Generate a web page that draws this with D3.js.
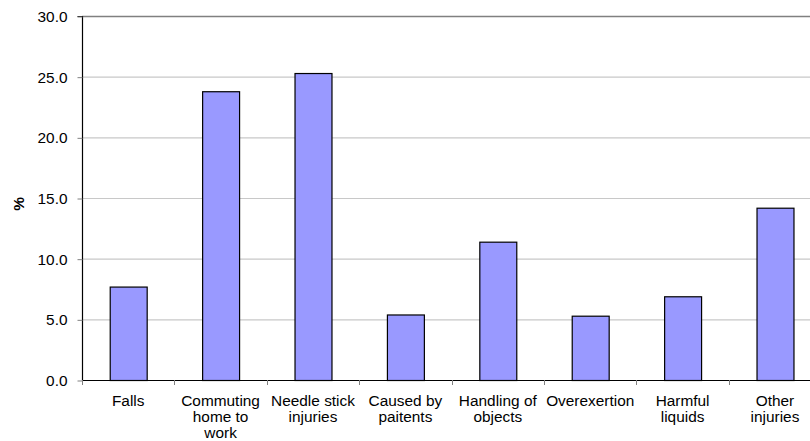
<!DOCTYPE html>
<html><head><meta charset="utf-8">
<script src="https://cdn.jsdelivr.net/npm/d3@7"></script>
<style>body{margin:0;background:#fff}svg{display:block;font-family:"Liberation Sans",Arial,sans-serif}</style>
</head><body>
<script>
const categories = [["Falls"],["Commuting","home to","work"],["Needle stick","injuries"],["Caused by","paitents"],["Handling of","objects"],["Overexertion"],["Harmful","liquids"],["Other","injuries"]];
const values = [7.7, 23.8, 25.3, 5.4, 11.4, 5.3, 6.9, 14.2];
const yTicks = [0, 5, 10, 15, 20, 25, 30];
const yLabel = "%";

const W = 810, H = 441;
const mLeft = 82, mTop = 16, mBottom = 380, step = 92.4;
const FS = 15.4;
const svg = d3.select("body").append("svg").attr("width", W).attr("height", H);
const idx = categories.map((d, i) => i);
const x = d3.scaleBand().domain(idx).range([mLeft, mLeft + step * categories.length]).paddingInner(0.6).paddingOuter(0.3);
const xb = d3.scaleBand().domain(idx).range([mLeft, mLeft + step * categories.length]);
const y = d3.scaleLinear().domain([0, 30]).range([mBottom, mTop]);

// gridlines
svg.append("g").selectAll("line").data(yTicks.filter(t => t > 0)).join("line")
  .attr("x1", mLeft).attr("x2", W + 20)
  .attr("y1", d => y(d) + 0.5).attr("y2", d => y(d) + 0.5)
  .attr("stroke", d => d === 30 ? "#808080" : "#c8c8c8").attr("stroke-width", d => d === 30 ? 1.3 : 1.2);

// bars
svg.append("g").selectAll("rect").data(values).join("rect")
  .attr("x", (d, i) => x(i) + 0.5).attr("width", x.bandwidth())
  .attr("y", d => y(d) + 0.5).attr("height", d => y(0) - y(d))
  .attr("fill", "#9999ff").attr("stroke", "#000").attr("stroke-width", 1.2);

// y axis
const yAxis = d3.axisLeft(y).tickValues(yTicks).tickFormat(d3.format(".1f")).tickSize(5).tickPadding(10);
const gy = svg.append("g").attr("transform", `translate(${mLeft + 0.5},0.5)`).call(yAxis);
gy.select(".domain").attr("stroke", "#000").attr("stroke-width", 1.2).attr("d", `M-5,${mTop}H0V${mBottom}`);
gy.selectAll(".tick line").attr("stroke", "#808080");
gy.selectAll("text").attr("font-size", FS).attr("fill", "#000").attr("font-family", "Liberation Sans, Arial, sans-serif");

// x axis
const xAxis = d3.axisBottom(xb).tickSize(0).tickFormat("");
const gx = svg.append("g").attr("transform", `translate(0,${mBottom + 0.5})`).call(xAxis);
gx.select(".domain").attr("stroke", "#000").attr("stroke-width", 1.2).attr("d", `M${mLeft},0H${W + 20}`);
gx.selectAll(".tick").remove();
svg.append("g").selectAll("line").data(idx.concat([categories.length])).join("line")
  .attr("x1", i => Math.round(mLeft + step * i) + 0.5).attr("x2", i => Math.round(mLeft + step * i) + 0.5)
  .attr("y1", mBottom).attr("y2", mBottom + 5).attr("stroke", "#808080");

const lab = svg.append("g").selectAll("text").data(categories).join("text")
  .attr("x", (d, i) => xb(i) + xb.bandwidth() / 2).attr("y", 406)
  .attr("text-anchor", "middle").attr("font-size", FS).attr("fill", "#000");
lab.selectAll("tspan").data(d => d).join("tspan")
  .attr("x", function() { return this.parentNode.getAttribute("x"); })
  .attr("dy", (d, i) => i === 0 ? 0 : 16).text(d => d);

svg.append("text").attr("transform", "translate(24,204) rotate(-90)")
  .attr("text-anchor", "middle").attr("font-size", FS).attr("font-weight", "bold").text(yLabel);
</script>
</body></html>
